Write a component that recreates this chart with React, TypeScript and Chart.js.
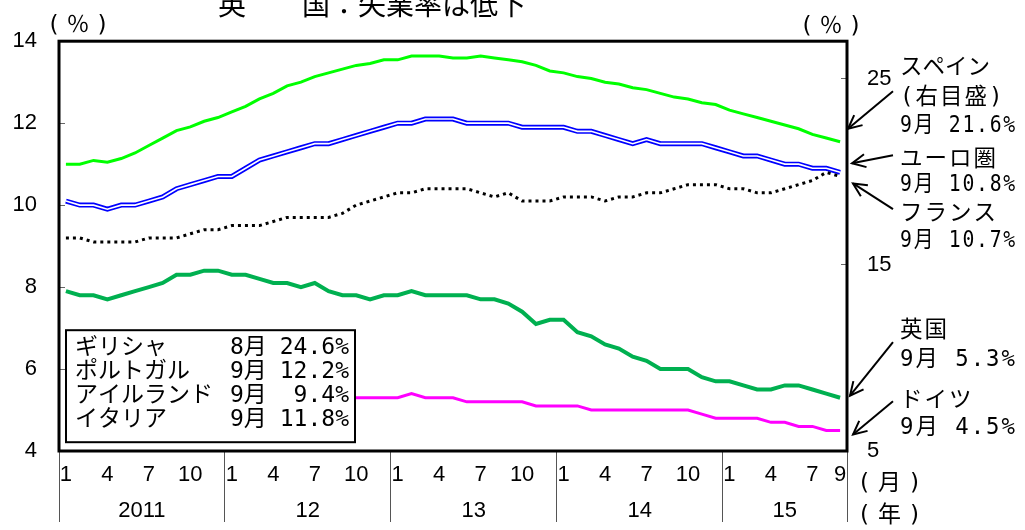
import React, { useEffect, useRef } from 'react';
import { Chart, registerables } from 'chart.js';

Chart.register(...registerables);

// ---- data ----
const years = ['2011', '12', '13', '14', '15'];
const monthsInYear = [12, 12, 12, 12, 9];
const shownMonths = [1, 4, 7, 10];
const rightTicks = [5, 15, 25];

// Spain (right axis)
const spain = [
  20.4, 20.4, 20.6, 20.5, 20.7, 21.0, 21.4, 21.8, 22.2, 22.4, 22.7, 22.9,
  23.2, 23.5, 23.9, 24.2, 24.6, 24.8, 25.1, 25.3, 25.5, 25.7, 25.8, 26.0,
  26.0, 26.2, 26.2, 26.2, 26.1, 26.1, 26.2, 26.1, 26.0, 25.9, 25.7, 25.4,
  25.3, 25.1, 25.0, 24.8, 24.7, 24.5, 24.4, 24.2, 24.0, 23.9, 23.7, 23.6,
  23.3, 23.1, 22.9, 22.7, 22.5, 22.3, 22.0, 21.8, 21.6,
];
// Euro area
const euro = [
  10.1, 10.0, 10.0, 9.9, 10.0, 10.0, 10.1, 10.2, 10.4, 10.5, 10.6, 10.7,
  10.7, 10.9, 11.1, 11.2, 11.3, 11.4, 11.5, 11.5, 11.6, 11.7, 11.8, 11.9,
  12.0, 12.0, 12.1, 12.1, 12.1, 12.0, 12.0, 12.0, 12.0, 11.9, 11.9, 11.9,
  11.9, 11.8, 11.8, 11.7, 11.6, 11.5, 11.6, 11.5, 11.5, 11.5, 11.5, 11.4,
  11.3, 11.2, 11.2, 11.1, 11.0, 11.0, 10.9, 10.9, 10.8,
];
// France
const france = [
  9.2, 9.2, 9.1, 9.1, 9.1, 9.1, 9.2, 9.2, 9.2, 9.3, 9.4, 9.4,
  9.5, 9.5, 9.5, 9.6, 9.7, 9.7, 9.7, 9.7, 9.8, 10.0, 10.1, 10.2,
  10.3, 10.3, 10.4, 10.4, 10.4, 10.4, 10.3, 10.2, 10.3, 10.1, 10.1, 10.1,
  10.2, 10.2, 10.2, 10.1, 10.2, 10.2, 10.3, 10.3, 10.4, 10.5, 10.5, 10.5,
  10.4, 10.4, 10.3, 10.3, 10.4, 10.5, 10.6, 10.8, 10.7,
];
// UK
const uk = [
  7.9, 7.8, 7.8, 7.7, 7.8, 7.9, 8.0, 8.1, 8.3, 8.3, 8.4, 8.4,
  8.3, 8.3, 8.2, 8.1, 8.1, 8.0, 8.1, 7.9, 7.8, 7.8, 7.7, 7.8,
  7.8, 7.9, 7.8, 7.8, 7.8, 7.8, 7.7, 7.7, 7.6, 7.4, 7.1, 7.2,
  7.2, 6.9, 6.8, 6.6, 6.5, 6.3, 6.2, 6.0, 6.0, 6.0, 5.8, 5.7,
  5.7, 5.6, 5.5, 5.5, 5.6, 5.6, 5.5, 5.4, 5.3,
];
// Germany
const germany = [
  6.4, 6.3, 6.2, 6.1, 6.0, 5.9, 5.9, 5.8, 5.7, 5.7, 5.6, 5.6,
  5.5, 5.5, 5.5, 5.4, 5.4, 5.4, 5.4, 5.3, 5.3, 5.3, 5.3, 5.3,
  5.3, 5.4, 5.3, 5.3, 5.3, 5.2, 5.2, 5.2, 5.2, 5.2, 5.1, 5.1,
  5.1, 5.1, 5.0, 5.0, 5.0, 5.0, 5.0, 5.0, 5.0, 5.0, 4.9, 4.8,
  4.8, 4.8, 4.8, 4.7, 4.7, 4.6, 4.6, 4.5, 4.5,
];

// note box
const noteNames = ['ギリシャ', 'ポルトガル', 'アイルランド', 'イタリア'];
const noteMonths = ['8月', '9月', '9月', '9月'];
const noteValues = ['24.6%', '12.2%', '9.4%', '11.8%'];

const titleText = '英　　国：失業率は低下';

// ---- derived ----
const categories: { year: number; month: number }[] = [];
monthsInYear.forEach((n, yi) => {
  for (let m = 1; m <= n; m++) categories.push({ year: yi, month: m });
});
const labels = categories.map((c) => `${years[c.year]}-${c.month}`);
const yearCenters: number[] = [];
{
  let start = 0;
  monthsInYear.forEach((n) => {
    yearCenters.push(start + n / 2);
    start += n;
  });
}
const lastIdx = categories.length - 1;
const lastMonth = categories[lastIdx].month;

const tickFont = { family: '"Liberation Sans", Arial, sans-serif', size: 22 };
const jpFont = '23px "DejaVu Sans Mono", "Noto Sans CJK JP", sans-serif';
const calloutFont = '22.5px "DejaVu Sans Mono", "Noto Sans CJK JP", sans-serif';

function drawArrow(ctx: CanvasRenderingContext2D, x1: number, y1: number, x2: number, y2: number) {
  ctx.beginPath();
  ctx.moveTo(x1, y1);
  ctx.lineTo(x2, y2);
  ctx.stroke();
  const ang = Math.atan2(y2 - y1, x2 - x1);
  const L = 15;
  const w = 0.45;
  ctx.beginPath();
  ctx.moveTo(x2 - L * Math.cos(ang - w), y2 - L * Math.sin(ang - w));
  ctx.lineTo(x2, y2);
  ctx.lineTo(x2 - L * Math.cos(ang + w), y2 - L * Math.sin(ang + w));
  ctx.stroke();
}

function spacedText(ctx: CanvasRenderingContext2D, text: string, x: number, y: number, spacing: string) {
  const c = ctx as any;
  const prev = c.letterSpacing;
  c.letterSpacing = spacing;
  ctx.fillText(text, x, y);
  c.letterSpacing = prev ?? '0px';
}

const callouts = [
  { lines: ['スペイン', '(右目盛)'], data: spain, axis: 'y1', tipDx: 1, tipDy: -13, tailY: 50, textY: [27, 57, 85] },
  { lines: ['ユーロ圏'], data: euro, axis: 'y', tipDx: 5, tipDy: -9, tailY: 114, textY: [119, 144] },
  { lines: ['フランス'], data: france, axis: 'y', tipDx: 6, tipDy: 7, tailY: 168, textY: [173, 200] },
  { lines: ['英国'], data: uk, axis: 'y', tipDx: 3, tipDy: -2, tailY: 301, textY: [290, 319] },
  { lines: ['ドイツ'], data: germany, axis: 'y', tipDx: 6, tipDy: 4, tailY: 360, textY: [360, 387] },
];

const decorPlugin = {
  id: 'decor',
  afterDatasetsDraw(chart: any) {
    const { ctx, chartArea: a, scales } = chart;
    ctx.save();

    // note box
    const bx = a.left + 7;
    const by = a.top + 289;
    const bw = 289;
    const bh = 112;
    ctx.fillStyle = '#fff';
    ctx.fillRect(bx, by, bw, bh);
    ctx.lineWidth = 2;
    ctx.strokeStyle = '#000';
    ctx.strokeRect(bx, by, bw, bh);
    ctx.fillStyle = '#000';
    ctx.font = jpFont;
    ctx.textBaseline = 'middle';
    noteNames.forEach((n, i) => {
      const y = by + 18 + i * 24;
      ctx.textAlign = 'left';
      ctx.fillText(n, bx + 9, y);
      ctx.fillText(noteMonths[i], bx + 164, y);
      ctx.textAlign = 'right';
      ctx.fillText(noteValues[i], bx + bw - 6, y);
    });

    // plot frame
    ctx.lineWidth = 3;
    ctx.strokeRect(a.left, a.top, a.right - a.left, a.bottom - a.top);

    // callouts
    ctx.lineWidth = 2;
    ctx.textAlign = 'left';
    ctx.textBaseline = 'middle';
    ctx.font = calloutFont;
    const textX = a.right + 53;
    const maxW = chart.width - textX - 8;
    callouts.forEach((c) => {
      const v = c.data[lastIdx];
      const tipX = a.right + c.tipDx;
      const tipY = scales[c.axis].getPixelForValue(v) + c.tipDy;
      drawArrow(ctx, a.right + 46, a.top + c.tailY, tipX, tipY);
      const texts = [...c.lines, `${lastMonth}月 ${v.toFixed(1)}%`];
      texts.forEach((t, i) => {
        const y = a.top + c.textY[i];
        if (t.startsWith('(')) spacedText(ctx, t, textX, y, '2px');
        else ctx.fillText(t, textX, y, maxW);
      });
    });
    ctx.restore();
  },
  afterDraw(chart: any) {
    const { ctx, chartArea: a } = chart;
    ctx.save();
    ctx.fillStyle = '#000';
    // title
    ctx.font = '28px "Noto Sans CJK JP", sans-serif';
    ctx.textAlign = 'center';
    ctx.textBaseline = 'alphabetic';
    ctx.fillText(titleText, a.left + 313, a.top - 26);
    // unit labels
    ctx.font = jpFont;
    ctx.textBaseline = 'middle';
    ctx.textAlign = 'center';
    spacedText(ctx, '(％)', a.left + 22, a.top - 15, '6px');
    spacedText(ctx, '(％)', a.right - 13, a.top - 14, '6px');
    spacedText(ctx, '(月)', a.right + 46, a.bottom + 33, '7px');
    spacedText(ctx, '(年)', a.right + 46, a.bottom + 65, '7px');
    ctx.restore();
  },
};

export default function App() {
  const ref = useRef<HTMLCanvasElement>(null);
  useEffect(() => {
    const canvas = ref.current;
    if (!canvas) return;
    const line = { pointRadius: 0, pointHoverRadius: 0, tension: 0, fill: false };
    const chart = new Chart(canvas, {
      type: 'line',
      data: {
        labels,
        datasets: [
          { ...line, label: 'フランス', data: france, yAxisID: 'y', borderColor: '#000', borderWidth: 3, borderDash: [3, 4], borderCapStyle: 'butt', order: 1 },
          { ...line, label: 'ユーロ圏(内)', data: euro, yAxisID: 'y', borderColor: '#ffffff', borderWidth: 1.6, order: 2 },
          { ...line, label: 'ユーロ圏', data: euro, yAxisID: 'y', borderColor: '#0000ff', borderWidth: 5, order: 3 },
          { ...line, label: 'スペイン', data: spain, yAxisID: 'y1', borderColor: '#00ff00', borderWidth: 3, order: 4 },
          { ...line, label: '英国', data: uk, yAxisID: 'y', borderColor: '#00b050', borderWidth: 4, order: 5 },
          { ...line, label: 'ドイツ', data: germany, yAxisID: 'y', borderColor: '#ff00ff', borderWidth: 3, order: 6 },
        ] as any,
      },
      options: {
        responsive: false,
        animation: false,
        devicePixelRatio: 1,
        layout: { padding: { top: 37, left: 0, right: 0, bottom: 0 } },
        plugins: { legend: { display: false }, tooltip: { enabled: false }, title: { display: false } },
        scales: {
          x: {
            type: 'category',
            position: 'bottom',
            weight: 0,
            offset: true,
            grid: {
              display: true,
              offset: true,
              drawOnChartArea: false,
              drawTicks: true,
              tickLength: 71,
              lineWidth: 1,
              color: (c: any) =>
                c.index === undefined || (categories[c.index] && categories[c.index].month === 1) ? '#555' : 'rgba(0,0,0,0)',
            },
            border: { display: false },
            ticks: {
              autoSkip: false,
              maxRotation: 0,
              minRotation: 0,
              padding: -60,
              color: '#000',
              font: tickFont,
              callback: (_v: any, i: number) => {
                const c = categories[i];
                return shownMonths.includes(c.month) || i === lastIdx ? String(c.month) : '';
              },
            },
            afterFit: (s: any) => { s.height = 40; },
          },
          x2: {
            type: 'linear',
            position: 'bottom',
            weight: 1,
            min: 0,
            max: categories.length,
            grid: { display: false, drawTicks: false },
            border: { display: false },
            afterBuildTicks: (s: any) => { s.ticks = yearCenters.map((v) => ({ value: v })); },
            ticks: {
              autoSkip: false,
              maxRotation: 0,
              padding: 7,
              color: '#000',
              font: tickFont,
              callback: (_v: any, i: number) => years[i],
            },
            afterFit: (s: any) => { s.height = 39; },
          },
          y: {
            type: 'linear',
            position: 'left',
            min: 4,
            max: 14,
            ticks: { stepSize: 2, padding: 28, color: '#000', font: tickFont },
            grid: { drawOnChartArea: false, drawTicks: true, tickLength: -6, color: '#666' },
            border: { display: false },
            afterFit: (s: any) => { s.width = 59; },
          },
          y1: {
            type: 'linear',
            position: 'right',
            min: 5,
            max: 27,
            afterBuildTicks: (s: any) => { s.ticks = rightTicks.map((v) => ({ value: v })); },
            ticks: { padding: 26, color: '#000', font: tickFont },
            grid: { drawOnChartArea: false, drawTicks: true, tickLength: -6, color: '#666' },
            border: { display: false },
            afterFit: (s: any) => { s.width = 178; },
          },
        } as any,
      },
      plugins: [decorPlugin as any],
    });
    return () => chart.destroy();
  }, []);

  return (
    <div style={{ position: 'absolute', left: 0, top: 0, width: 1025, height: 530, background: '#fff' }}>
      <canvas ref={ref} width={1025} height={530} style={{ display: 'block', width: 1025, height: 530 }} />
    </div>
  );
}
